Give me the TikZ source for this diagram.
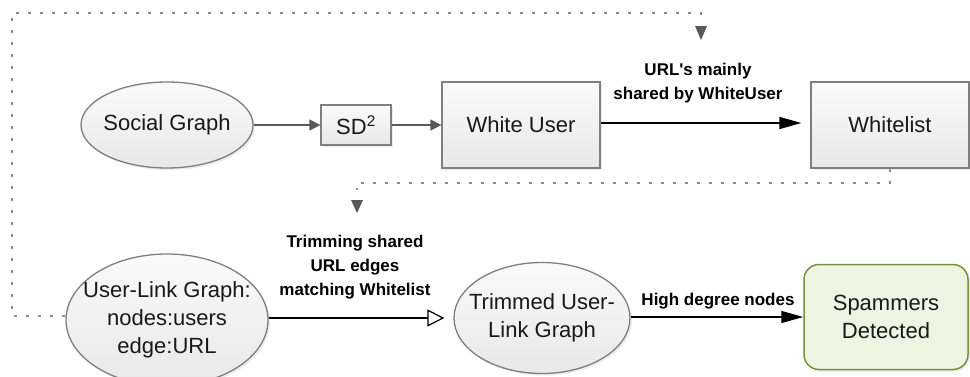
\documentclass[tikz,border=0pt]{standalone}
\usepackage{fontspec}
\setmainfont{Liberation Sans}
\usetikzlibrary{arrows.meta,shapes.geometric,shadows}
\definecolor{edgegray}{HTML}{595959}
\definecolor{bordergray}{HTML}{7F7F7F}
\definecolor{dotgray}{HTML}{8C8C8C}
\definecolor{greenborder}{HTML}{76923C}
\definecolor{greenfill}{HTML}{EEF3E2}
\begin{document}
\begin{tikzpicture}[x=1pt,y=-1pt,
  every node/.style={font=\fontsize{22}{28}\selectfont, text=black!90, align=center},
  shad/.style={drop shadow={opacity=0.15,shadow xshift=2pt,shadow yshift=-2pt}},
  graybox/.style={draw=bordergray, line width=1.3pt, top color=white!98!black, bottom color=black!9, shad, inner sep=0pt},
  grayell/.style={ellipse, draw=bordergray, line width=1.3pt, top color=white!98!black, bottom color=black!9, shad, inner xsep=-22pt, inner ysep=0pt},
  greenbox/.style={draw=greenborder, line width=1.5pt, fill=greenfill, rounded corners=15pt, shad, inner sep=0pt},
  grayarrow/.style={draw=edgegray, line width=1.4pt, -{Triangle[length=11pt,width=11pt]}},
  blackarrow/.style={draw=black, line width=1.4pt, -{Triangle[length=22pt,width=12pt]}},
  openarrow/.style={draw=black, line width=1.2pt, -{Triangle[open,length=17pt,width=17pt,fill=white]}},
  dotline/.style={draw=dotgray, line width=1.6pt, dash pattern=on 3pt off 9pt},
  tipfill/.style={fill=edgegray},
  lbl/.style={font=\fontsize{17}{24}\selectfont\bfseries, text=black}
]
\useasboundingbox (0,0) rectangle (970,376);

% nodes
\node[grayell, minimum width=172pt, minimum height=86pt] (sg) at (167,125) {Social Graph};
\node[graybox, minimum width=70pt, minimum height=40pt] (sd) at (356,125) {SD\textsuperscript{2}};
\node[graybox, minimum width=158pt, minimum height=86pt] (wu) at (521,125) {White User};
\node[graybox, minimum width=158pt, minimum height=86pt] (wl) at (890,125) {Whitelist};
\node[grayell, minimum width=202pt, minimum height=132pt] (ul) at (167,320) {User-Link Graph:\\nodes:users\\edge:URL};
\node[grayell, minimum width=176pt, minimum height=111pt] (tr) at (542,318) {Trimmed User-\\Link Graph};
\node[greenbox, minimum width=164pt, minimum height=105pt] (sp) at (886,317) {Spammers\\Detected};

% labels
\node[lbl] (l1) at (698,83) {URL\textquotesingle s mainly\\shared by WhiteUser};
\node[lbl] (l2) at (355,267) {Trimming shared\\URL edges\\matching Whitelist};
\node[lbl] (l3) at (718,301) {High degree nodes};

% connectors
\draw[grayarrow] (sg) -- (sd);
\draw[grayarrow] (sd) -- (wu);
\draw[blackarrow, shorten >=9pt] (wu.east |- 0,123) -- (wl.west |- 0,123);
\draw[openarrow, shorten >=9pt] (ul.east |- 0,318) -- (tr.west |- 0,318);
\draw[blackarrow] (tr.east |- 0,317) -- (sp.west |- 0,317);

% dotted feedback lines
\coordinate (c1a) at (12,316);
\coordinate (c1b) at (12,13);
\coordinate (c1c) at (701,13);
\coordinate (c1d) at (701,40);
\draw[dotline] (ul.west |- c1a) -- (c1a) -- (c1b) -- (c1c) -- (701,18);
\fill[tipfill] (695,26) -- (707,26) -- (c1d) -- cycle;

\coordinate (c2a) at (890,183);
\coordinate (c2b) at (357,183);
\coordinate (c2c) at (357,213);
\draw[dotline] (wl.south) -- (c2a) -- (c2b) -- (357,190);
\fill[tipfill] (351,200) -- (363,200) -- (c2c) -- cycle;
\end{tikzpicture}
\end{document}
